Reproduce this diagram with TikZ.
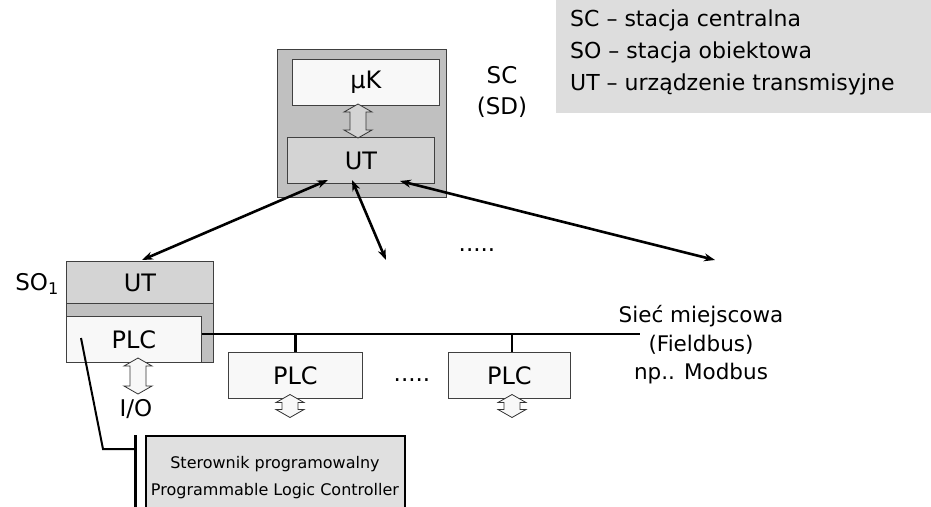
\documentclass[tikz,border=0pt]{standalone}
\usepackage{fontspec}
\setmainfont{DejaVu Sans}
\usetikzlibrary{arrows.meta}
\definecolor{outergray}{HTML}{C0C0C0}
\definecolor{utgray}{HTML}{D4D4D4}
\definecolor{paleface}{HTML}{F8F8F8}
\definecolor{leggray}{HTML}{DDDDDD}
\definecolor{stergray}{HTML}{E0E0E0}
\begin{document}
\begin{tikzpicture}[x=1pt,y=-1pt,
  box/.style={draw=black!75,line width=0.9pt,inner sep=0pt,anchor=north west,
    font=\fontsize{24}{28}\selectfont},
  lbl/.style={inner sep=0pt,font=\fontsize{23}{31}\selectfont,align=center},
  legtxt/.style={inner sep=0pt,anchor=west,font=\fontsize{22}{24}\selectfont},
  link/.style={line width=2.6pt,{Stealth[length=11pt,width=8pt]}-{Stealth[length=11pt,width=8pt]}},
  bus/.style={line width=2.6pt},
  arrstyle/.style={draw=black!80,line width=0.8pt,fill=paleface,line join=miter},
  pics/blockarr/.style 2 args={code={
    \draw[arrstyle,#2] (0,-#1) -- (14,-#1+8) -- (8,-#1+8) -- (8,#1-8) -- (14,#1-8)
      -- (0,#1) -- (-14,#1-8) -- (-8,#1-8) -- (-8,-#1+8) -- (-14,-#1+8) -- cycle;}}
]
\clip (0,0) rectangle (931,506);
% legend
\node[anchor=north west,fill=leggray,minimum width=375pt,minimum height=113pt,inner sep=0pt] (leg) at (556,0) {};
\node[legtxt] (l1) at (570,20) {SC – stacja centralna};
\node[legtxt] (l2) at (570,52) {SO – stacja obiektowa};
\node[legtxt] (l3) at (570,84) {UT – urządzenie transmisyjne};
% central station
\node[box,fill=outergray,minimum width=169pt,minimum height=148pt] (sc) at (277,49) {};
\node[box,fill=paleface,minimum width=147pt,minimum height=46pt] (mk) at (292,59) {µK};
\node[box,fill=utgray,minimum width=147pt,minimum height=46pt] (ut) at (287,137) {UT};
\pic at (358,121) {blockarr={17}{fill=utgray}};
\node[lbl] (sclbl) at (502,92) {SC\\(SD)};
% SO1
\node[box,fill=outergray,minimum width=147pt,minimum height=59pt] (so1) at (66,303) {};
\node[box,fill=utgray,minimum width=147pt,minimum height=42pt] (so1ut) at (66,261) {UT};
\node[box,fill=paleface,minimum width=135pt,minimum height=46pt] (plc1) at (66,316) {PLC};
\node[lbl,anchor=east] (so1lbl) at (59,284) {SO\textsubscript{1}};
\pic at (138,376) {blockarr={18}{}};
\node[lbl] (io) at (136,409) {I/O};
% other PLCs
\node[box,fill=paleface,minimum width=134pt,minimum height=46pt] (plc2) at (228,352) {PLC};
\node[box,fill=paleface,minimum width=122pt,minimum height=46pt] (plc3) at (448,352) {PLC};
\pic at (290,406) {blockarr={11.5}{}};
\pic at (512,406) {blockarr={11.5}{}};
\node[lbl] (dots2) at (412,380) {.....};
% PLC controller box
\node[anchor=north west,draw=black,line width=2pt,fill=stergray,minimum width=259pt,minimum height=90pt,inner sep=0pt] (ster) at (145,435) {};
\node[lbl,font=\fontsize{16}{27}\selectfont] (stertxt) at (275,478) {Sterownik programowalny\\Programmable Logic Controller};
% coordinates
\coordinate (e1) at (142,260);
\coordinate (s1) at (328,180);
\coordinate (s2) at (352,180);
\coordinate (e2) at (386,260);
\coordinate (s3) at (400,181);
\coordinate (e3) at (715,260);
\coordinate (busend) at (640,334);
\coordinate (inpt) at (81,338);
\coordinate (bend) at (103,449);
\coordinate (bartop) at (135,435);
\coordinate (barbot) at (135,510);
% links
\draw[link] (s1) -- (e1);
\draw[link] (s2) -- (e2);
\draw[link] (s3) -- (e3);
\node[lbl] (dots1) at (477,250) {.....};
% fieldbus
\draw[bus] (plc1.east |- busend) -- (busend);
\draw[bus] (plc2.north |- busend) -- (plc2.north);
\draw[bus] (512,334) -- (plc3.north -| 512,0);
\node[lbl,font=\fontsize{21.5}{28.5}\selectfont] (fb) at (701,345) {Sieć miejscowa\\(Fieldbus)\\np.. Modbus};
% PLC to controller
\draw[line width=2pt] (inpt) -- (bend) -- (bend -| bartop);
\draw[line width=3pt] (bartop) -- (barbot);
\end{tikzpicture}
\end{document}
